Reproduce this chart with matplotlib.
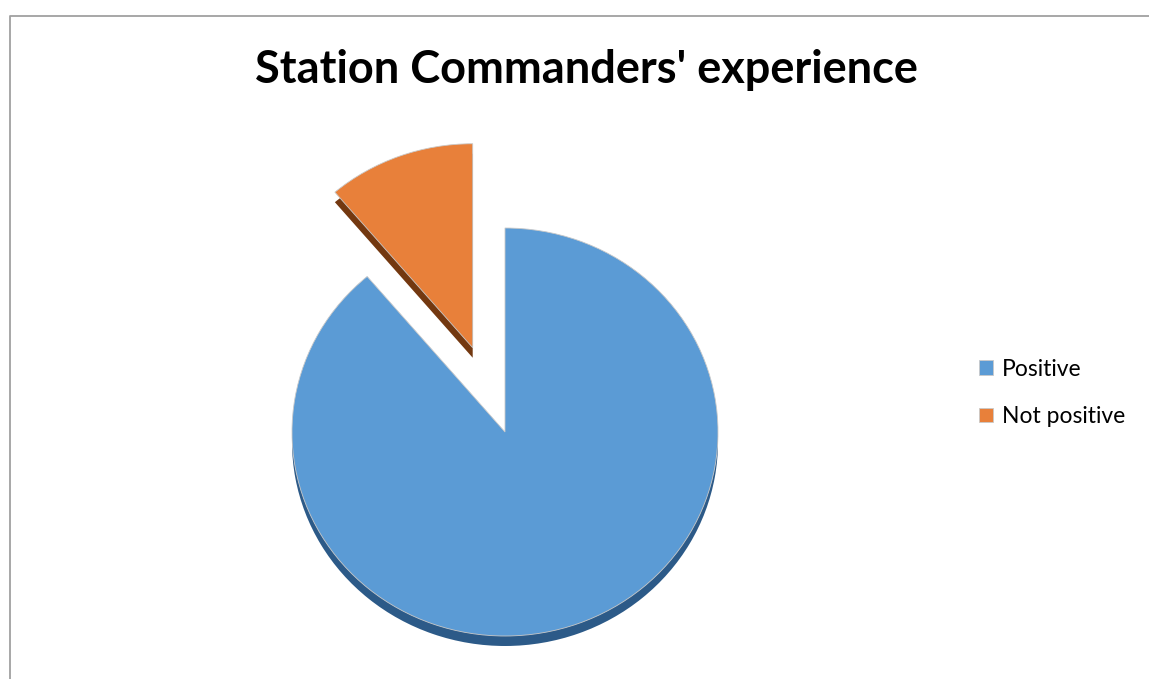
import matplotlib.pyplot as plt

# chart data
labels = ['Positive', 'Not positive']
shares = [88.8, 11.2]
colors = ['#5b9bd5', '#e8803a']
side_colors = ['#2c5a88', '#733810']

W, H = 1149, 679
sy = 204 / 213          # slight vertical squash for the tilted look
cx, cy = 505, (H - 432) / sy
radius = 213
depth = 10 / sy
explode = [0, 0.44 * radius]   # pie explode is in data units

plt.rcParams['font.family'] = ['Lato', 'DejaVu Sans']

fig = plt.figure(figsize=(W / 100, H / 100), dpi=100)
ax = fig.add_axes([0, 0, 1, 1])

# side of the slices (drawn first, shifted down)
ax.pie(shares, colors=side_colors, explode=explode, startangle=90,
       counterclock=False, radius=radius, center=(cx, cy - depth),
       frame=True, wedgeprops=dict(linewidth=0))

# top face
wedges, _ = ax.pie(shares, colors=colors, explode=explode, startangle=90,
                   counterclock=False, radius=radius, center=(cx, cy),
                   frame=True,
                   wedgeprops=dict(edgecolor='#c9c9c9', linewidth=0.6))

ax.set_xlim(0, W)
ax.set_ylim(0, H / sy)
ax.set_aspect('auto')
ax.axis('off')

# chart border (left and top visible)
ax.plot([10, 10, W + 5], [-5, (H - 16) / sy, (H - 16) / sy],
        color='#a0a0a0', linewidth=1.3, clip_on=False)

fig.text(586 / W, 1 - 70 / H, "Station Commanders' experience",
         ha='center', va='center', fontsize=32.5, fontweight='bold')

leg = fig.legend(wedges, labels, loc='center left',
                 bbox_to_anchor=(968 / W, 1 - 393 / H), frameon=False,
                 fontsize=16.5, handlelength=0.6, handleheight=0.6,
                 handletextpad=0.4, labelspacing=1.15, borderpad=0)

fig.savefig('out.png', dpi=100)
